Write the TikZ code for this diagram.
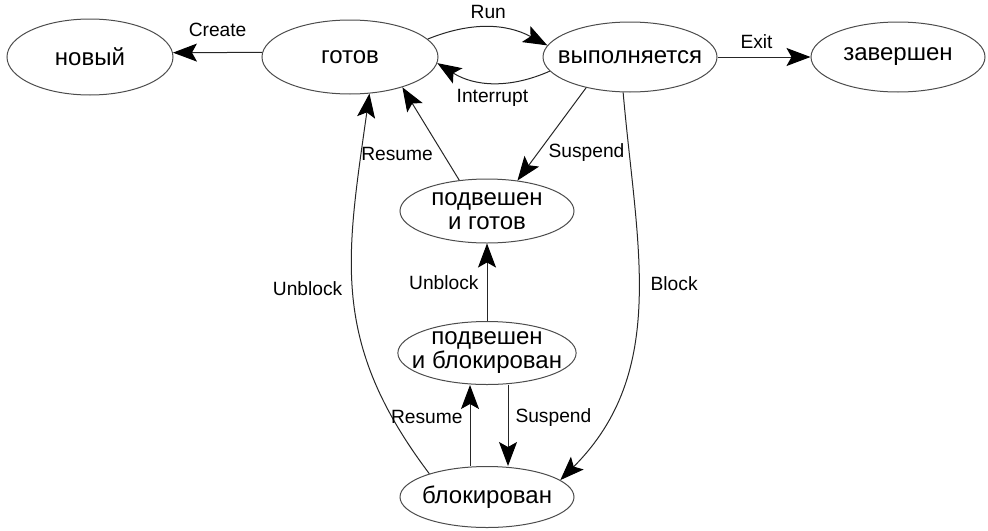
\documentclass[tikz,border=0pt]{standalone}
\usepackage{fontspec}
\setmainfont{Liberation Sans}
\usetikzlibrary{automata, positioning, arrows.meta, shapes.geometric}

\begin{document}
\begin{tikzpicture}[>={Stealth[length=12pt,width=9pt,inset=2.5pt,color=black]}, node distance=70pt, on grid, auto]
        \tikzset{every state/.style={ellipse,draw=black!70,line width=0.5pt,minimum width=87pt,minimum height=35pt,
                inner xsep=-6pt,inner ysep=0pt,align=center,font=\fontsize{12}{12}\selectfont},
                every edge/.append style={draw=black!85,line width=0.5pt}}
        % Define attributes for the transition labels
        \tikzstyle{lbl}=[font=\fontsize{9.6}{10}\selectfont,inner sep=3pt]

        \useasboundingbox (-175pt,28.5pt) rectangle (319pt,-236.5pt);

        \node[state,minimum width=88pt,minimum height=37pt] (q_ready) {готов};
        \node[state,minimum width=83pt,minimum height=38pt] (q_new) [left=130pt of q_ready] {новый};
        \node[state] (q_run) [right=140pt of q_ready] {выполняется};
        \node[state] (q_exit) [right=134pt of q_run] {завершен};
        \node[state,minimum height=32pt] (q_sr) [below right=77pt and 68.5pt of q_ready] {подвешен\\и готов};
        \node[state,minimum height=31.5pt] (q_sb) [below=71pt of q_sr] {подвешен\\и блокирован};
        \node[state,minimum height=30.5pt] (q_blk) [below=72pt of q_sb] {блокирован};
        \path[->]
        (q_ready.177) edge node[lbl,above=4.5pt] {Create} (q_new.3)
        (q_ready.13) edge [bend left=25] node[lbl,above=1pt] {Run} (q_run.172)
        (q_run.190) edge [bend left=28] node[lbl,below=0pt] {Interrupt} (q_ready.-4)
        (q_run) edge node[lbl,pos=.42,above=1pt] {Exit} (q_exit)

        (q_run.215) edge node[lbl,pos=.7,right=2pt] {Suspend} (q_sr.45)
        (q_sr.132) edge node[lbl,pos=.28,left=2pt] {Resume} (q_ready.-30)
        (q_run.-101) edge [out=-85,in=45] node[lbl,pos=.45,right=3pt] {Block} (q_blk.13)
        (q_blk.158) edge [out=127,in=-98,looseness=1.1] node[lbl,pos=.52,left=2pt] {Unblock} (q_ready.-62)

        (q_sb) edge node[lbl,pos=.49,left=1pt] {Unblock} (q_sr)
        ([xshift=-8.5pt]q_blk.north) edge node[lbl,pos=.6,left=.5pt] {Resume} ([xshift=-8.5pt]q_sb.south)
        ([xshift=10.5pt]q_sb.south) edge node[lbl,pos=.4,right=.5pt] {Suspend} ([xshift=10.5pt]q_blk.north);
    \end{tikzpicture}
\end{document}
